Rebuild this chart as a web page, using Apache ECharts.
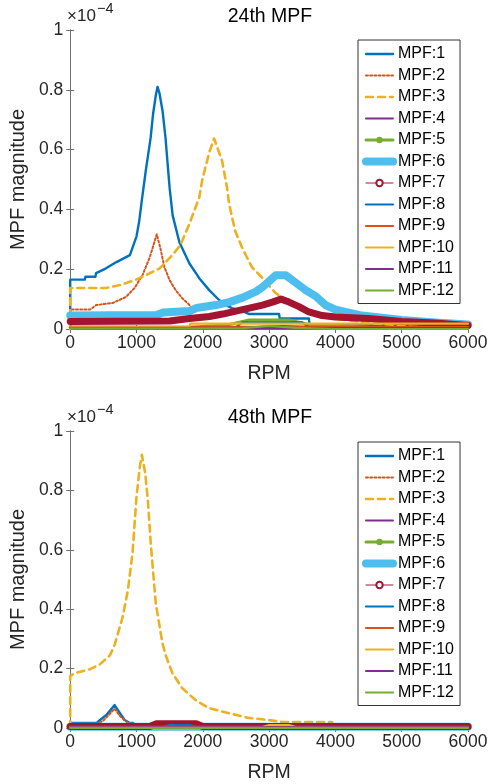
<!DOCTYPE html>
<html><head><meta charset="utf-8">
<script src="https://cdn.jsdelivr.net/npm/echarts@6/dist/echarts.min.js"></script>
<style>html,body{margin:0;padding:0;background:#fff}#c{width:498px;height:784px}</style>
</head><body><div id="c"></div>
<script>
// ---------- labels ----------
const seriesNames = ['MPF:1','MPF:2','MPF:3','MPF:4','MPF:5','MPF:6','MPF:7','MPF:8','MPF:9','MPF:10','MPF:11','MPF:12'];
const plotTitles = ['24th MPF', '48th MPF'];
const xTicks = [0, 1000, 2000, 3000, 4000, 5000, 6000];
const yTicks = [0, 0.2, 0.4, 0.6, 0.8, 1];

// ---------- 24th MPF (values in units of 1e-4) ----------
const t1_rpm = [0,0,220,230,380,390,540,690,900,1000,1040,1080,1140,1180,1213,1250,1290,1317,1345,1392,1437,1470,1500,1545,1647,1796,1946,2096,2245,2350,2440,2600,2700,3150,3160,3600,3610,6000];
const t1_val = [0,0.165,0.165,0.175,0.175,0.187,0.203,0.223,0.247,0.31,0.36,0.43,0.53,0.59,0.64,0.72,0.78,0.81,0.79,0.73,0.64,0.55,0.47,0.38,0.29,0.22,0.17,0.13,0.097,0.08,0.07,0.06,0.05,0.05,0.035,0.035,0.015,0.01];
const t2_rpm = [0,0,300,390,640,840,970,1090,1200,1305,1360,1420,1500,1590,1690,1800,1850];
const t2_val = [0,0.065,0.065,0.08,0.087,0.107,0.137,0.18,0.24,0.317,0.27,0.207,0.163,0.13,0.103,0.08,0.065];
const t3_rpm = [0,0,540,750,970,1140,1350,1540,1660,1800,1946,1990,2096,2170,2290,2365,2395,2485,2590,2740,2890,3085,3235,3440,3740,4000,4500,5000,6000];
const t3_val = [0,0.137,0.137,0.147,0.163,0.18,0.203,0.247,0.28,0.353,0.44,0.497,0.59,0.637,0.563,0.473,0.42,0.33,0.273,0.207,0.173,0.123,0.097,0.073,0.053,0.035,0.02,0.012,0.008];
const t4_rpm = [0,2500,3200,4000,6000];
const t4_val = [0.004,0.004,0.01,0.004,0.002];
const t5_rpm = [0,1800,2400,2700,3300,3600,4500,6000];
const t5_val = [0.005,0.005,0.015,0.03,0.03,0.015,0.006,0.003];
const t6_rpm = [0,1300,1400,1800,1900,2200,2400,2600,2800,2900,3000,3100,3250,3400,3550,3700,3850,4000,4200,4400,4600,4800,5000,5500,6000];
const t6_val = [0.045,0.047,0.055,0.06,0.07,0.08,0.09,0.105,0.125,0.14,0.16,0.18,0.18,0.155,0.13,0.11,0.08,0.065,0.055,0.045,0.04,0.035,0.03,0.022,0.015];
const t7_rpm = [0,1500,1800,2100,2300,2700,2900,3050,3180,3300,3450,3600,3800,4000,4500,5000,5500,6000];
const t7_val = [0.025,0.027,0.035,0.042,0.05,0.07,0.08,0.09,0.1,0.09,0.075,0.057,0.045,0.04,0.035,0.025,0.02,0.012];
const t8_rpm = [0,2500,2600,3500,3600,6000];
const t8_val = [0.006,0.006,0.022,0.022,0.006,0.004];
const t9_rpm = [0,6000];
const t9_val = [0.008,0.006];
const t10_rpm = [0,1800,1810,6000];
const t10_val = [0.006,0.006,0.018,0.018];
const t11_rpm = [0,6000];
const t11_val = [0.004,0.003];
const t12_rpm = [0,2600,3000,3400,4000,6000];
const t12_val = [0.002,0.003,0.01,0.004,0,0];

// ---------- 48th MPF (values in units of 1e-4) ----------
const b1_rpm = [0,0,400,450,550,670,750,820,900,950,960,6000];
const b1_val = [0,0.017,0.017,0.027,0.045,0.077,0.05,0.027,0.017,0.017,0.004,0.003];
const b2_rpm = [0,0,400,500,670,750,850,950,960,6000];
const b2_val = [0,0.012,0.012,0.025,0.065,0.04,0.02,0.012,0.004,0.003];
const b3_rpm = [0,0,75,300,450,600,670,790,870,940,1000,1050,1080,1130,1170,1215,1290,1390,1440,1540,1690,1890,2090,2390,2690,2990,3200,3950,3960,6000];
const b3_val = [0,0.175,0.185,0.198,0.215,0.245,0.28,0.373,0.464,0.59,0.78,0.88,0.92,0.86,0.77,0.62,0.42,0.286,0.245,0.185,0.134,0.094,0.067,0.05,0.034,0.027,0.02,0.02,0.004,0.003];
const b4_rpm = [0,6000];
const b4_val = [0.003,0.003];
const b5_rpm = [0,1300,1400,1800,1900,6000];
const b5_val = [0.002,0.002,0.006,0.006,0.002,0.002];
const b6_rpm = [0,6000];
const b6_val = [0.004,0.004];
const b7_rpm = [0,1200,1300,1900,2000,6000];
const b7_val = [0.005,0.005,0.014,0.014,0.005,0.005];
const b8_rpm = [0,1400,1500,1800,1900,6000];
const b8_val = [0.003,0.003,0.01,0.01,0.003,0.003];
const b9_rpm = [0,6000];
const b9_val = [0.004,0.004];
const b10_rpm = [0,2900,3000,3300,3400,6000];
const b10_val = [0.003,0.003,0.01,0.01,0.003,0.003];
const b11_rpm = [0,6000];
const b11_val = [0.002,0.002];
const b12_rpm = [0,6000];
const b12_val = [0,0];

const topData = [[t1_rpm,t1_val],[t2_rpm,t2_val],[t3_rpm,t3_val],[t4_rpm,t4_val],[t5_rpm,t5_val],[t6_rpm,t6_val],[t7_rpm,t7_val],[t8_rpm,t8_val],[t9_rpm,t9_val],[t10_rpm,t10_val],[t11_rpm,t11_val],[t12_rpm,t12_val]];
const botData = [[b1_rpm,b1_val],[b2_rpm,b2_val],[b3_rpm,b3_val],[b4_rpm,b4_val],[b5_rpm,b5_val],[b6_rpm,b6_val],[b7_rpm,b7_val],[b8_rpm,b8_val],[b9_rpm,b9_val],[b10_rpm,b10_val],[b11_rpm,b11_val],[b12_rpm,b12_val]];

// ---------- styles ----------
const colors = ['#0072BD','#D95319','#EDB120','#7E2F8E','#77AC30','#4DBEEE','#A2142F','#0072BD','#D95319','#EDB120','#7E2F8E','#77AC30'];
const widths = [2.4, 2, 2.6, 2, 3, 8, 7, 2.2, 2.2, 2.2, 2.2, 2.2];
const types = ['solid', [2, 2.2], [7, 5], 'solid','solid','solid','solid','solid','solid','solid','solid','solid'];
const symbols = ['circle','circle','circle','circle','circle','circle','emptyCircle','circle','circle','circle','circle','circle'];

const FONT = '"Liberation Sans", Arial, sans-serif';
const TXT = '#262626';
const AX = '#707070';
const grids = [
  {left: 67, top: 30, width: 401, height: 299},
  {left: 67, top: 431, width: 401, height: 297}
];

const xAxes = [], yAxes = [];
grids.forEach((g, gi) => {
  xAxes.push({
    type: 'value', gridIndex: gi, min: xTicks[0], max: xTicks[xTicks.length - 1], interval: 1000, position: 'bottom',
    name: 'RPM', nameLocation: 'middle', nameGap: 35,
    nameTextStyle: {fontFamily: FONT, fontSize: 19.5, color: TXT},
    axisLine: {show: true, lineStyle: {color: AX, width: 1}},
    axisTick: {show: true, inside: true, length: 4, lineStyle: {color: AX}},
    axisLabel: {fontFamily: FONT, fontSize: 17.5, color: TXT, margin: 5, formatter: v => String(v)},
    splitLine: {show: false}
  });
  xAxes.push({
    type: 'value', gridIndex: gi, min: xTicks[0], max: xTicks[xTicks.length - 1], interval: 1000, position: 'top',
    axisLine: {show: true, lineStyle: {color: AX, width: 1}},
    axisTick: {show: true, inside: true, length: 4, lineStyle: {color: AX}},
    axisLabel: {show: false}, splitLine: {show: false}
  });
  yAxes.push({
    type: 'value', gridIndex: gi, min: yTicks[0], max: yTicks[yTicks.length - 1], interval: 0.2, position: 'left',
    name: 'MPF magnitude', nameLocation: 'middle', nameGap: 35,
    nameTextStyle: {fontFamily: FONT, fontSize: 20, color: TXT},
    axisLine: {show: true, lineStyle: {color: AX, width: 1}},
    axisTick: {show: true, inside: true, length: 4, lineStyle: {color: AX}},
    axisLabel: {fontFamily: FONT, fontSize: 17.5, color: TXT, margin: 7, formatter: v => String(Math.round(v * 10) / 10)},
    splitLine: {show: false}
  });
  yAxes.push({
    type: 'value', gridIndex: gi, min: yTicks[0], max: yTicks[yTicks.length - 1], interval: 0.2, position: 'right',
    axisLine: {show: true, lineStyle: {color: AX, width: 1}},
    axisTick: {show: true, inside: true, length: 4, lineStyle: {color: AX}},
    axisLabel: {show: false}, splitLine: {show: false}
  });
});

const series = [];
[topData, botData].forEach((set, gi) => {
  set.forEach((pair, i) => {
    const [rpm, val] = pair;
    series.push({
      type: 'line', name: seriesNames[i],
      xAxisIndex: gi * 2, yAxisIndex: gi * 2,
      data: rpm.map((r, k) => [r, val[k]]),
      showSymbol: false, symbol: symbols[i], symbolSize: 6,
      clip: false, silent: true, animation: false,
      lineStyle: {color: colors[i], width: widths[i], type: types[i], cap: 'round', join: 'round'},
      itemStyle: {color: colors[i]}
    });
  });
});

function legendFor(top) {
  return {
    orient: 'vertical', left: 358, top: top,
    padding: [6, 6, 5, 4],
    itemWidth: 27, itemHeight: 8, itemGap: 5.5,
    borderColor: '#333', borderWidth: 1, backgroundColor: '#fff',
    selectedMode: false,
    textStyle: {fontFamily: FONT, fontSize: 16, color: '#000'},
    itemStyle: {opacity: 0},
    lineStyle: {width: 'inherit'},
    data: seriesNames.map((n, i) => {
      if (i === 4) return {name: n, itemStyle: {opacity: 1}};
      if (i === 6) return {name: n, itemStyle: {opacity: 1}, lineStyle: {width: 1}};
      return {name: n};
    })
  };
}

const graphics = [];
grids.forEach(g => {
  graphics.push({type: 'text', left: 67, top: g.top - 22, silent: true,
    style: {text: '×10', font: '17px "Liberation Sans", Arial, sans-serif', fill: TXT}});
  graphics.push({type: 'text', left: 97, top: g.top - 29, silent: true,
    style: {text: '−4', font: '14.5px "Liberation Sans", Arial, sans-serif', fill: TXT}});
});

const chart = echarts.init(document.getElementById('c'), null, {renderer: 'canvas'});
chart.setOption({
  backgroundColor: '#fff',
  animation: false,
  title: grids.map((g, gi) => ({
    text: plotTitles[gi], left: 265, top: g.top - 28, textAlign: 'center',
    textStyle: {fontFamily: FONT, fontSize: 19.5, fontWeight: 'normal', color: '#000'}
  })),
  grid: grids,
  xAxis: xAxes,
  yAxis: yAxes,
  legend: [legendFor(40), legendFor(442)],
  graphic: graphics,
  series: series
});
</script></body></html>
